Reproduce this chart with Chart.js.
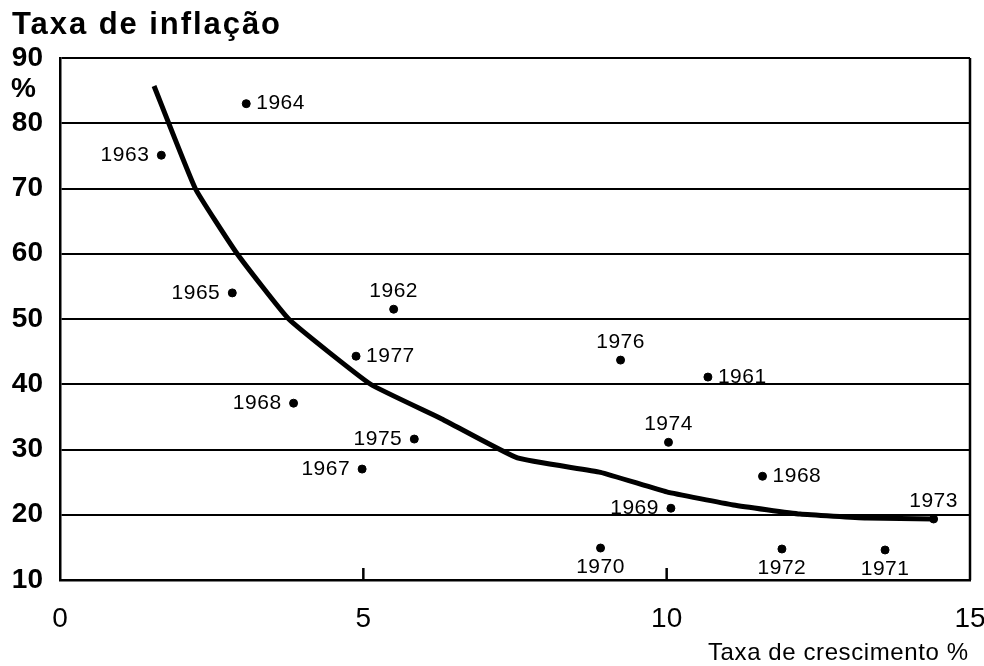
<!DOCTYPE html>
<html>
<head>
<meta charset="utf-8">
<title>Taxa de inflação x Taxa de crescimento</title>
<script src="https://cdn.jsdelivr.net/npm/chart.js@4.4.1/dist/chart.umd.min.js"></script>
<style>
  html, body { margin: 0; padding: 0; background: #fff; }
  #chart { display: block; }
</style>
</head>
<body>
<canvas id="chart" width="984" height="666"></canvas>
<script>
// pontos (ano, crescimento %, inflacao %)
var anos = ['1963', '1964', '1965', '1962', '1977', '1968', '1975', '1967', '1976',
            '1961', '1974', '1968', '1969', '1970', '1972', '1971', '1973'];
var crescimento = [1.67, 3.07, 2.84, 5.5, 4.88, 3.85, 5.84, 4.98, 9.24,
                   10.68, 10.03, 11.58, 10.07, 8.91, 11.9, 13.6, 14.4];
var inflacao = [75.1, 83, 54, 51.5, 44.3, 37.1, 31.6, 27, 43.7,
                41.1, 31.1, 25.9, 21, 14.9, 14.75, 14.6, 19.35];
// lado do rotulo de cada ponto
var posRotulo = ['left', 'right', 'left', 'above', 'right', 'left', 'left', 'left', 'above',
                 'right', 'above', 'right', 'left', 'below', 'below', 'below', 'above'];

// curva desenhada a mao
var curvaX = [1.55, 2.23, 2.92, 3.77, 5.12, 6.27, 7.54, 8.91, 10.0, 11.1, 12.2, 13.3, 14.4];
var curvaY = [85.7, 70, 60, 50, 40, 34.8, 28.7, 26.5, 23.5, 21.5, 20.1, 19.5, 19.35];

var ticksX = [0, 5, 10, 15];
var ticksY = [10, 20, 30, 40, 50, 60, 70, 80, 90];

var FONTE = '"Liberation Sans", Arial, sans-serif';

// escreve texto esticando o espacamento ate a largura pedida
function textoLargo(ctx, txt, x, y, largura, align) {
  ctx.letterSpacing = '0px';
  var w = ctx.measureText(txt).width;
  var esp = (largura - w) / (txt.length - 1);
  ctx.letterSpacing = esp + 'px';
  ctx.textAlign = 'left';
  var x0 = align == 'right' ? x - largura : x;
  ctx.fillText(txt, x0, y);
  ctx.letterSpacing = '0px';
}

var extras = {
  id: 'extras',
  afterDatasetsDraw: function(chart) {
    var ctx = chart.ctx;
    var a = chart.chartArea;
    var sx = chart.scales.x;
    ctx.save();
    ctx.strokeStyle = '#000';
    ctx.lineWidth = 2.5;
    // borda direita
    ctx.beginPath();
    ctx.moveTo(a.right, a.top);
    ctx.lineTo(a.right, a.bottom);
    ctx.stroke();
    // marcas pequenas no eixo x
    ticksX.slice(1, 3).forEach(function(v) {
      var px = sx.getPixelForValue(v);
      ctx.beginPath();
      ctx.moveTo(px, a.bottom);
      ctx.lineTo(px, a.bottom - 12);
      ctx.stroke();
    });

    // rotulos dos anos
    var meta = chart.getDatasetMeta(1);
    ctx.fillStyle = '#000';
    ctx.font = '21px ' + FONTE;
    ctx.letterSpacing = '0.5px';
    meta.data.forEach(function(pt, i) {
      var p = posRotulo[i];
      ctx.textBaseline = 'middle';
      if (p == 'left') {
        ctx.textAlign = 'right';
        ctx.fillText(anos[i], pt.x - 12, pt.y);
      } else if (p == 'right') {
        ctx.textAlign = 'left';
        ctx.fillText(anos[i], pt.x + 10, pt.y);
      } else if (p == 'above') {
        ctx.textAlign = 'center';
        ctx.fillText(anos[i], pt.x, pt.y - 18);
      } else {
        ctx.textAlign = 'center';
        ctx.fillText(anos[i], pt.x, pt.y + 19);
      }
    });
    ctx.letterSpacing = '0px';

    // titulos
    ctx.textBaseline = 'alphabetic';
    ctx.font = 'bold 31px ' + FONTE;
    textoLargo(ctx, 'Taxa de inflação', 12, 34, 268, 'left');
    ctx.font = 'bold 28px ' + FONTE;
    ctx.textAlign = 'left';
    ctx.fillText('%', 11, 97);
    ctx.font = '24px ' + FONTE;
    textoLargo(ctx, 'Taxa de crescimento %', 968, 660, 260, 'right');
    ctx.restore();
  }
};

new Chart(document.getElementById('chart'), {
  type: 'scatter',
  data: {
    datasets: [{
      type: 'line',
      data: curvaX.map(function(x, i) { return {x: x, y: curvaY[i]}; }),
      borderColor: '#000',
      borderWidth: 5,
      pointRadius: 0,
      fill: false,
      tension: 0.12
    }, {
      data: crescimento.map(function(x, i) { return {x: x, y: inflacao[i]}; }),
      backgroundColor: '#000',
      borderColor: '#000',
      pointRadius: 4,
      pointHoverRadius: 4
    }]
  },
  options: {
    responsive: false,
    animation: false,
    layout: { padding: { top: 58, right: 14, left: 0, bottom: 0 } },
    plugins: {
      legend: { display: false },
      tooltip: { enabled: false }
    },
    scales: {
      x: {
        type: 'linear',
        min: 0,
        max: 15,
        afterBuildTicks: function(s) { s.ticks = ticksX.map(function(v) { return {value: v}; }); },
        afterFit: function(s) { s.height = 86; s.paddingLeft = 0; s.paddingRight = 0; },
        grid: { display: false, drawTicks: false },
        border: { display: true, color: '#000', width: 2.5 },
        ticks: {
          color: '#000',
          padding: 22,
          maxRotation: 0,
          font: { family: FONTE, size: 28 }
        }
      },
      y: {
        type: 'linear',
        min: 10,
        max: 90,
        afterBuildTicks: function(s) { s.ticks = ticksY.map(function(v) { return {value: v}; }); },
        afterFit: function(s) { s.width = 60; s.paddingTop = 0; s.paddingBottom = 0; },
        grid: { color: '#000', lineWidth: 2, drawTicks: false },
        border: { display: true, color: '#000', width: 2.5 },
        ticks: {
          color: '#000',
          padding: 17,
          font: { family: FONTE, size: 28, weight: 'bold' }
        }
      }
    }
  },
  plugins: [extras]
});
</script>
</body>
</html>
